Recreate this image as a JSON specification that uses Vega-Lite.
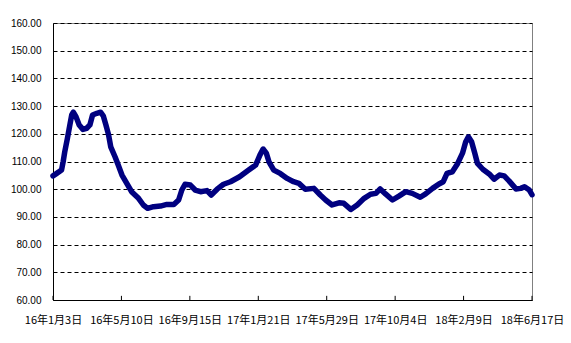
{
  "$schema": "https://vega.github.io/schema/vega-lite/v6.json",
  "autosize": {"type": "none"},
  "width": 479,
  "height": 277,
  "padding": {"left": 53, "top": 23, "right": 39, "bottom": 43},
  "background": "white",
  "config": {"view": {"stroke": "#808080", "strokeWidth": 1}},
  "datasets": {
    "series": [
      {"date": "2016-01-03", "v": 104.8},
      {"date": "2016-01-10", "v": 105.7},
      {"date": "2016-01-19", "v": 106.9},
      {"date": "2016-01-22", "v": 109.9},
      {"date": "2016-01-25", "v": 113.5},
      {"date": "2016-01-30", "v": 118.4},
      {"date": "2016-02-03", "v": 122.6},
      {"date": "2016-02-07", "v": 126.8},
      {"date": "2016-02-10", "v": 127.8},
      {"date": "2016-02-15", "v": 126.2},
      {"date": "2016-02-21", "v": 123.2},
      {"date": "2016-02-28", "v": 121.6},
      {"date": "2016-03-06", "v": 122.0},
      {"date": "2016-03-12", "v": 123.2},
      {"date": "2016-03-17", "v": 126.8},
      {"date": "2016-03-25", "v": 127.4},
      {"date": "2016-04-01", "v": 127.8},
      {"date": "2016-04-06", "v": 126.5},
      {"date": "2016-04-11", "v": 123.2},
      {"date": "2016-04-16", "v": 119.6},
      {"date": "2016-04-20", "v": 115.3},
      {"date": "2016-04-28", "v": 111.7},
      {"date": "2016-05-04", "v": 108.7},
      {"date": "2016-05-11", "v": 105.1},
      {"date": "2016-05-20", "v": 102.1},
      {"date": "2016-05-29", "v": 99.1},
      {"date": "2016-06-11", "v": 96.7},
      {"date": "2016-06-20", "v": 94.3},
      {"date": "2016-06-28", "v": 93.1},
      {"date": "2016-07-09", "v": 93.7},
      {"date": "2016-07-22", "v": 93.9},
      {"date": "2016-08-03", "v": 94.5},
      {"date": "2016-08-16", "v": 94.5},
      {"date": "2016-08-25", "v": 96.1},
      {"date": "2016-08-31", "v": 99.7},
      {"date": "2016-09-06", "v": 101.8},
      {"date": "2016-09-16", "v": 101.5},
      {"date": "2016-09-25", "v": 99.7},
      {"date": "2016-10-05", "v": 99.1},
      {"date": "2016-10-17", "v": 99.5},
      {"date": "2016-10-25", "v": 97.9},
      {"date": "2016-11-05", "v": 100.0},
      {"date": "2016-11-17", "v": 101.8},
      {"date": "2016-11-30", "v": 102.7},
      {"date": "2016-12-17", "v": 104.5},
      {"date": "2017-01-03", "v": 106.9},
      {"date": "2017-01-16", "v": 108.7},
      {"date": "2017-01-24", "v": 112.3},
      {"date": "2017-01-30", "v": 114.5},
      {"date": "2017-02-05", "v": 113.0},
      {"date": "2017-02-10", "v": 109.9},
      {"date": "2017-02-19", "v": 106.9},
      {"date": "2017-03-03", "v": 105.7},
      {"date": "2017-03-16", "v": 103.9},
      {"date": "2017-03-28", "v": 102.7},
      {"date": "2017-04-07", "v": 102.1},
      {"date": "2017-04-19", "v": 100.0},
      {"date": "2017-05-05", "v": 100.3},
      {"date": "2017-05-17", "v": 97.9},
      {"date": "2017-05-27", "v": 96.1},
      {"date": "2017-06-08", "v": 94.3},
      {"date": "2017-06-21", "v": 95.1},
      {"date": "2017-06-30", "v": 94.9},
      {"date": "2017-07-13", "v": 92.7},
      {"date": "2017-07-25", "v": 94.3},
      {"date": "2017-08-07", "v": 96.7},
      {"date": "2017-08-19", "v": 98.2},
      {"date": "2017-08-29", "v": 98.5},
      {"date": "2017-09-06", "v": 100.1},
      {"date": "2017-09-16", "v": 98.3},
      {"date": "2017-09-29", "v": 96.1},
      {"date": "2017-10-11", "v": 97.5},
      {"date": "2017-10-24", "v": 99.1},
      {"date": "2017-11-05", "v": 98.5},
      {"date": "2017-11-20", "v": 97.1},
      {"date": "2017-11-30", "v": 98.3},
      {"date": "2017-12-13", "v": 100.3},
      {"date": "2017-12-25", "v": 101.9},
      {"date": "2018-01-02", "v": 102.7},
      {"date": "2018-01-09", "v": 105.7},
      {"date": "2018-01-19", "v": 106.3},
      {"date": "2018-01-29", "v": 109.3},
      {"date": "2018-02-07", "v": 113.0},
      {"date": "2018-02-13", "v": 117.1},
      {"date": "2018-02-18", "v": 118.9},
      {"date": "2018-02-24", "v": 117.1},
      {"date": "2018-03-02", "v": 113.0},
      {"date": "2018-03-07", "v": 109.3},
      {"date": "2018-03-17", "v": 107.2},
      {"date": "2018-03-29", "v": 105.5},
      {"date": "2018-04-07", "v": 103.6},
      {"date": "2018-04-17", "v": 105.1},
      {"date": "2018-04-26", "v": 104.8},
      {"date": "2018-05-05", "v": 103.0},
      {"date": "2018-05-18", "v": 100.1},
      {"date": "2018-05-27", "v": 100.3},
      {"date": "2018-06-03", "v": 100.9},
      {"date": "2018-06-12", "v": 99.7},
      {"date": "2018-06-17", "v": 98.0}
    ],
    "ticks": [
      {"date": "2016-01-03", "lo": 60, "hi": 61.5},
      {"date": "2016-05-10", "lo": 60, "hi": 61.5},
      {"date": "2016-09-15", "lo": 60, "hi": 61.5},
      {"date": "2017-01-21", "lo": 60, "hi": 61.5},
      {"date": "2017-05-29", "lo": 60, "hi": 61.5},
      {"date": "2017-10-04", "lo": 60, "hi": 61.5},
      {"date": "2018-02-09", "lo": 60, "hi": 61.5},
      {"date": "2018-06-17", "lo": 60, "hi": 61.5}
    ]
  },
  "layer": [
    {
      "data": {"name": "ticks"},
      "mark": {"type": "rule", "color": "black", "strokeWidth": 1},
      "encoding": {
        "x": {"field": "date", "type": "temporal"},
        "y": {"field": "lo", "type": "quantitative"},
        "y2": {"field": "hi"}
      }
    },
    {
      "data": {"name": "series"},
      "mark": {"type": "line", "color": "#000080", "strokeWidth": 5.5, "strokeJoin": "round", "strokeCap": "round"},
      "encoding": {
        "x": {"field": "date", "type": "temporal"},
        "y": {"field": "v", "type": "quantitative"}
      }
    }
  ],
  "encoding": {
    "x": {
      "field": "date",
      "type": "temporal",
      "scale": {
        "type": "utc",
        "domain": [
          {"year": 2016, "month": 1, "date": 3, "utc": true},
          {"year": 2018, "month": 6, "date": 17, "utc": true}
        ]
      },
      "axis": {
        "title": null,
        "grid": false,
        "ticks": false,
        "values": [
          {"year": 2016, "month": 1, "date": 3, "utc": true},
          {"year": 2016, "month": 5, "date": 10, "utc": true},
          {"year": 2016, "month": 9, "date": 15, "utc": true},
          {"year": 2017, "month": 1, "date": 21, "utc": true},
          {"year": 2017, "month": 5, "date": 29, "utc": true},
          {"year": 2017, "month": 10, "date": 4, "utc": true},
          {"year": 2018, "month": 2, "date": 9, "utc": true},
          {"year": 2018, "month": 6, "date": 17, "utc": true}
        ],
        "labelExpr": "utcFormat(datum.value, '%y年%-m月%-d日')",
        "labelFont": "Noto Sans CJK JP",
        "labelFontSize": 11,
        "labelColor": "black",
        "labelPadding": 14,
        "labelFlush": false,
        "labelOverlap": false,
        "domainColor": "black",
        "domainWidth": 1
      }
    },
    "y": {
      "field": "v",
      "type": "quantitative",
      "scale": {"domain": [60, 160], "nice": false, "zero": false},
      "axis": {
        "title": null,
        "values": [60, 70, 80, 90, 100, 110, 120, 130, 140, 150, 160],
        "format": ".2f",
        "ticks": false,
        "labelFont": "Liberation Sans",
        "labelFontSize": 10,
        "labelColor": "black",
        "labelPadding": 12,
        "domainColor": "black",
        "domainWidth": 1,
        "gridColor": "black",
        "gridDash": [4, 3],
        "gridWidth": 1,
        "gridOpacity": 1
      }
    }
  }
}
